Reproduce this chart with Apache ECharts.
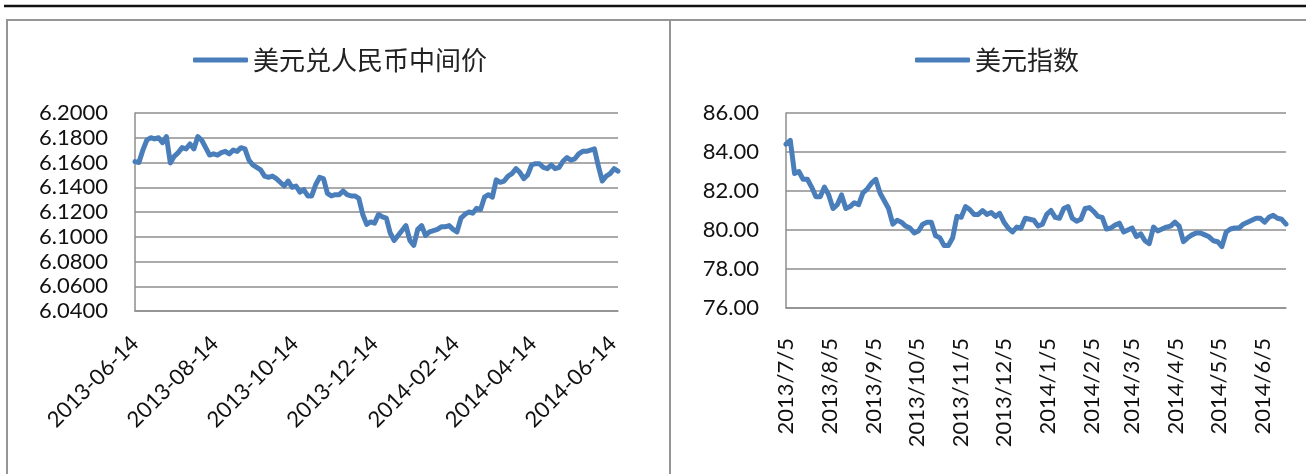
<!DOCTYPE html>
<html>
<head>
<meta charset="utf-8">
<title>美元兑人民币中间价 / 美元指数</title>
<script src="https://cdn.jsdelivr.net/npm/echarts@6/dist/echarts.min.js"></script>
<style>
  html, body { margin: 0; padding: 0; background: #fff; }
  #chart { width: 1306px; height: 474px; }
</style>
</head>
<body>
<div id="chart"></div>
<script>
// USD/CNY central parity, sampled every 3 calendar days from 2013-06-14
const cnyName = '美元兑人民币中间价';
const cnyStart = '2013-06-14';
const cnyStepDays = 3;
const cnyRates = [
  6.1607, 6.1600, 6.1700, 6.1780, 6.1800, 6.1790, 6.1800, 6.1760, 6.1810, 6.1596,
  6.1650, 6.1680, 6.1720, 6.1710, 6.1750, 6.1710, 6.1810, 6.1780, 6.1720, 6.1660,
  6.1670, 6.1660, 6.1680, 6.1690, 6.1670, 6.1700, 6.1690, 6.1720, 6.1710, 6.1620,
  6.1580, 6.1560, 6.1540, 6.1490, 6.1480, 6.1490, 6.1470, 6.1440, 6.1410, 6.1450,
  6.1400, 6.1410, 6.1360, 6.1380, 6.1330, 6.1330, 6.1420, 6.1480, 6.1470, 6.1350,
  6.1330, 6.1340, 6.1340, 6.1370, 6.1340, 6.1330, 6.1330, 6.1310, 6.1180, 6.1100,
  6.1120, 6.1110, 6.1180, 6.1160, 6.1150, 6.1030, 6.0970, 6.1010, 6.1050, 6.1090,
  6.0970, 6.0930, 6.1060, 6.1090, 6.1010, 6.1040, 6.1050, 6.1060, 6.1080, 6.1080,
  6.1090, 6.1060, 6.1040, 6.1150, 6.1180, 6.1200, 6.1190, 6.1230, 6.1220, 6.1320,
  6.1340, 6.1320, 6.1460, 6.1440, 6.1450, 6.1490, 6.1510, 6.1550, 6.1520, 6.1470,
  6.1500, 6.1580, 6.1590, 6.1590, 6.1560, 6.1550, 6.1580, 6.1550, 6.1560, 6.1610,
  6.1640, 6.1620, 6.1630, 6.1670, 6.1690, 6.1690, 6.1700, 6.1710, 6.1570, 6.1450,
  6.1490, 6.1510, 6.1550, 6.1530
];
const cnyTickLabels = ['2013-06-14', '2013-08-14', '2013-10-14', '2013-12-14', '2014-02-14', '2014-04-14', '2014-06-14'];
const cnyYMin = 6.04, cnyYMax = 6.20, cnyYStep = 0.02;

// US dollar index, sampled every 3 calendar days from 2013-07-05
const dxyName = '美元指数';
const dxyStart = '2013-07-05';
const dxyStepDays = 3;
const dxyValues = [
  84.40, 84.60, 82.90, 83.00, 82.60, 82.60, 82.20, 81.70, 81.70, 82.20,
  81.80, 81.10, 81.30, 81.80, 81.10, 81.20, 81.40, 81.30, 81.90, 82.10,
  82.40, 82.60, 81.90, 81.50, 81.10, 80.30, 80.50, 80.40, 80.20, 80.10,
  79.85, 79.95, 80.30, 80.40, 80.40, 79.70, 79.60, 79.20, 79.20, 79.60,
  80.70, 80.65, 81.20, 81.05, 80.80, 80.80, 81.00, 80.80, 80.90, 80.70,
  80.85, 80.40, 80.10, 79.90, 80.15, 80.10, 80.60, 80.55, 80.50, 80.20,
  80.30, 80.80, 81.00, 80.65, 80.60, 81.10, 81.20, 80.60, 80.45, 80.55,
  81.10, 81.15, 80.95, 80.70, 80.65, 80.05, 80.10, 80.25, 80.35, 79.90,
  80.00, 80.10, 79.66, 79.80, 79.45, 79.30, 80.15, 79.95, 80.05, 80.15,
  80.20, 80.40, 80.20, 79.40, 79.60, 79.75, 79.85, 79.85, 79.75, 79.65,
  79.45, 79.40, 79.15, 79.90, 80.05, 80.10, 80.10, 80.30, 80.40, 80.50,
  80.60, 80.60, 80.40, 80.65, 80.75, 80.60, 80.55, 80.30
];
const dxyTickLabels = ['2013/7/5', '2013/8/5', '2013/9/5', '2013/10/5', '2013/11/5', '2013/12/5', '2014/1/5', '2014/2/5', '2014/3/5', '2014/4/5', '2014/5/5', '2014/6/5'];
const dxyYMin = 76, dxyYMax = 86, dxyYStep = 2;

const DAY = 86400000;
function parseDay(s) {
  const p = s.split(/[-\/]/).map(Number);
  return Date.UTC(p[0], p[1] - 1, p[2]);
}
function stepDates(start, count, step) {
  const t0 = parseDay(start);
  const out = [];
  for (let i = 0; i < count; i++) out.push(t0 + i * step * DAY);
  return out;
}
function pad2(n) { return (n < 10 ? '0' : '') + n; }
function fmtDash(v) {
  const d = new Date(v);
  return d.getUTCFullYear() + '-' + pad2(d.getUTCMonth() + 1) + '-' + pad2(d.getUTCDate());
}
function fmtSlash(v) {
  const d = new Date(v);
  return d.getUTCFullYear() + '/' + (d.getUTCMonth() + 1) + '/' + d.getUTCDate();
}

const cnyDates = stepDates(cnyStart, cnyRates.length, cnyStepDays);
const dxyDates = stepDates(dxyStart, dxyValues.length, dxyStepDays);
const cnyTicks = cnyTickLabels.map(parseDay);
const dxyTicks = dxyTickLabels.map(parseDay);

const LINE_BLUE = '#4a7ebb';
const GRID_GRAY = '#8e8e8e';
const FRAME_GRAY = '#959595';
const numFont = 'Lato, "Liberation Sans", sans-serif';
const cjkFont = '"Noto Sans CJK SC", "Noto Sans", sans-serif';

// date axis drawn as a linear value axis over UTC timestamps
function xAxisFor(gridIndex, dates, ticks, fmt, rotate, margin) {
  return {
    type: 'value',
    gridIndex: gridIndex,
    min: dates[0],
    max: dates[dates.length - 1],
    scale: true,
    axisLine: { show: true, onZero: false, lineStyle: { color: GRID_GRAY, width: 1.5 } },
    axisTick: { show: false },
    splitLine: { show: false },
    axisLabel: {
      customValues: ticks,
      formatter: fmt,
      rotate: rotate,
      margin: margin,
      color: '#111',
      fontFamily: numFont,
      fontSize: 22,
      showMinLabel: true,
      showMaxLabel: true
    }
  };
}
function yAxisFor(gridIndex, min, max, step, digits) {
  return {
    type: 'value',
    gridIndex: gridIndex,
    min: min,
    max: max,
    interval: step,
    axisLine: { show: true, onZero: false, lineStyle: { color: GRID_GRAY, width: 1.5 } },
    axisTick: { show: false },
    splitLine: { show: true, lineStyle: { color: GRID_GRAY, width: 1.5 } },
    axisLabel: {
      formatter: function (v) { return v.toFixed(digits); },
      margin: 27,
      color: '#111',
      fontFamily: numFont,
      fontSize: 22
    }
  };
}
function legendFor(name, left) {
  return {
    data: [name],
    left: left,
    top: 47,
    padding: 0,
    icon: 'roundRect',
    itemWidth: 55,
    itemHeight: 5,
    selectedMode: false,
    textStyle: { fontFamily: cjkFont, fontSize: 26, lineHeight: 26, color: '#222' }
  };
}

const chart = echarts.init(document.getElementById('chart'), null, { renderer: 'canvas' });
chart.setOption({
  animation: false,
  backgroundColor: '#fff',
  grid: [
    { left: 135, top: 113, width: 483, height: 198, outerBoundsMode: 'none', containLabel: false },
    { left: 786, top: 113, width: 500, height: 195, outerBoundsMode: 'none', containLabel: false }
  ],
  legend: [legendFor(cnyName, 193), legendFor(dxyName, 915)],
  xAxis: [
    xAxisFor(0, cnyDates, cnyTicks, fmtDash, 45, 29),
    xAxisFor(1, dxyDates, dxyTicks, fmtSlash, 90, 30)
  ],
  yAxis: [
    yAxisFor(0, cnyYMin, cnyYMax, cnyYStep, 4),
    yAxisFor(1, dxyYMin, dxyYMax, dxyYStep, 2)
  ],
  series: [
    {
      name: cnyName, type: 'line', xAxisIndex: 0, yAxisIndex: 0,
      data: cnyDates.map((t, i) => [t, cnyRates[i]]),
      showSymbol: false, symbol: 'none',
      itemStyle: { color: LINE_BLUE },
      lineStyle: { color: LINE_BLUE, width: 5, join: 'round', cap: 'round' }
    },
    {
      name: dxyName, type: 'line', xAxisIndex: 1, yAxisIndex: 1,
      data: dxyDates.map((t, i) => [t, dxyValues[i]]),
      showSymbol: false, symbol: 'none',
      itemStyle: { color: LINE_BLUE },
      lineStyle: { color: LINE_BLUE, width: 5, join: 'round', cap: 'round' }
    }
  ],
  graphic: [
    { type: 'line', silent: true, shape: { x1: 4, y1: 6, x2: 1306, y2: 6 }, style: { stroke: '#111', lineWidth: 2.5 } },
    { type: 'line', silent: true, shape: { x1: 6, y1: 20, x2: 1306, y2: 20 }, style: { stroke: FRAME_GRAY, lineWidth: 2 } },
    { type: 'line', silent: true, shape: { x1: 7, y1: 19, x2: 7, y2: 474 }, style: { stroke: FRAME_GRAY, lineWidth: 2 } },
    { type: 'line', silent: true, shape: { x1: 670, y1: 19, x2: 670, y2: 474 }, style: { stroke: FRAME_GRAY, lineWidth: 2 } }
  ]
});
</script>
</body>
</html>
